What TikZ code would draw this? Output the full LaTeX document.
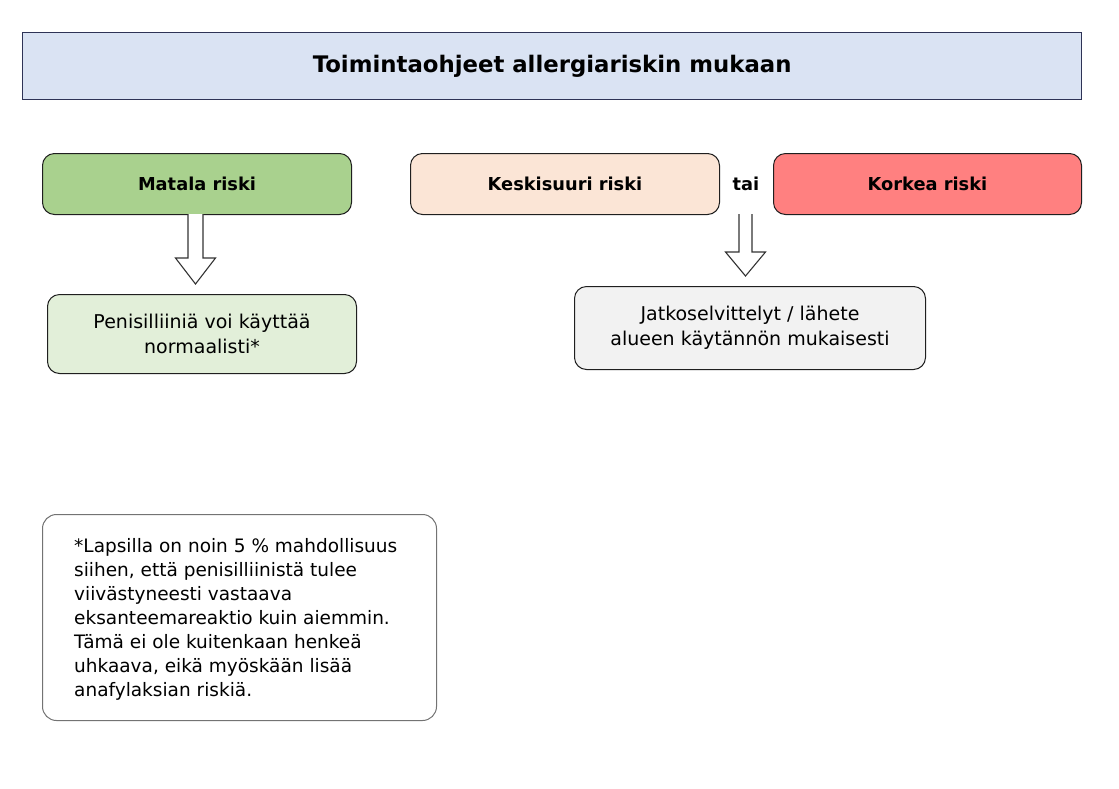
\documentclass[tikz,border=0pt]{standalone}
\usepackage{fontspec}
\setmainfont{DejaVu Sans}
\usetikzlibrary{calc}
\definecolor{titlefill}{HTML}{DAE3F3}
\definecolor{titledraw}{HTML}{2E3356}
\definecolor{lowfill}{HTML}{A9D18E}
\definecolor{midfill}{HTML}{FBE5D6}
\definecolor{highfill}{HTML}{FF8080}
\definecolor{lowres}{HTML}{E2EFD9}
\definecolor{midres}{HTML}{F2F2F2}
\definecolor{edge}{HTML}{1F1F1F}
\definecolor{arrowc}{HTML}{333333}
\begin{document}
\begin{tikzpicture}[x=1pt,y=-1pt,
  box/.style={draw=edge,line width=1pt,rounded corners=12pt,inner sep=0pt,anchor=north west,align=center,text=black},
  riskbox/.style={box,font=\fontsize{17.8}{21}\selectfont\bfseries},
  resbox/.style={box,font=\fontsize{19}{25}\selectfont},
  bigarrow/.style={draw=arrowc,line width=1.1pt,fill=white,line join=miter}
]
\useasboundingbox (0,0) rectangle (1119,788);
\fill[white] (0,0) rectangle (1119,788);
\node[draw=titledraw,line width=1.3pt,fill=titlefill,anchor=north west,minimum width=1059pt,minimum height=67pt,inner sep=0pt,font=\fontsize{22.8}{27}\selectfont\bfseries] (title) at (22,32) {Toimintaohjeet allergiariskin mukaan};
\node[riskbox,fill=lowfill,minimum width=309pt,minimum height=61pt] (low) at (42,153) {Matala riski};
\node[riskbox,fill=midfill,minimum width=309pt,minimum height=61pt] (mid) at (410,153) {Keskisuuri riski};
\node[riskbox,fill=highfill,minimum width=308pt,minimum height=61pt] (high) at (773,153) {Korkea riski};
\node[font=\fontsize{17.8}{21}\selectfont\bfseries] (tai) at (746,184) {tai};
\node[resbox,fill=lowres,minimum width=309pt,minimum height=79pt] (lowres) at (47,294) {Penisilliiniä voi käyttää\\normaalisti*};
\node[resbox,fill=midres,minimum width=351pt,minimum height=83pt] (midres) at (574,286) {Jatkoselvittelyt / lähete\\alueen käytännön mukaisesti};
\node[draw=black!55,line width=1pt,rounded corners=14pt,anchor=north west,minimum width=394pt,minimum height=206pt,inner sep=0pt] (note) at (42,514) {};
\node[anchor=north west,align=left,font=\fontsize{18.5}{24}\selectfont,inner sep=0pt] (notetext) at (74,538) {*Lapsilla on noin 5 \% mahdollisuus\\siihen, että penisilliinistä tulee\\viivästyneesti vastaava\\eksanteemareaktio kuin aiemmin.\\Tämä ei ole kuitenkaan henkeä\\uhkaava, eikä myöskään lisää\\anafylaksian riskiä.};
% arrow low -> lowres
\coordinate (a1top) at (195.5,214);
\coordinate (a1tip) at (195.5,284);
\draw[bigarrow] ($(a1top)+(-7.5,0)$) -- ($(a1top)+(-7.5,44)$) -- ($(a1top)+(-20,44)$) -- (a1tip) -- ($(a1top)+(20,44)$) -- ($(a1top)+(7.5,44)$) -- ($(a1top)+(7.5,0)$);
% arrow tai -> midres
\coordinate (a2top) at (745.5,214);
\coordinate (a2tip) at (745.5,276);
\draw[bigarrow] ($(a2top)+(-6.5,0)$) -- ($(a2top)+(-6.5,38)$) -- ($(a2top)+(-20,38)$) -- (a2tip) -- ($(a2top)+(20,38)$) -- ($(a2top)+(6.5,38)$) -- ($(a2top)+(6.5,0)$);
\end{tikzpicture}
\end{document}
